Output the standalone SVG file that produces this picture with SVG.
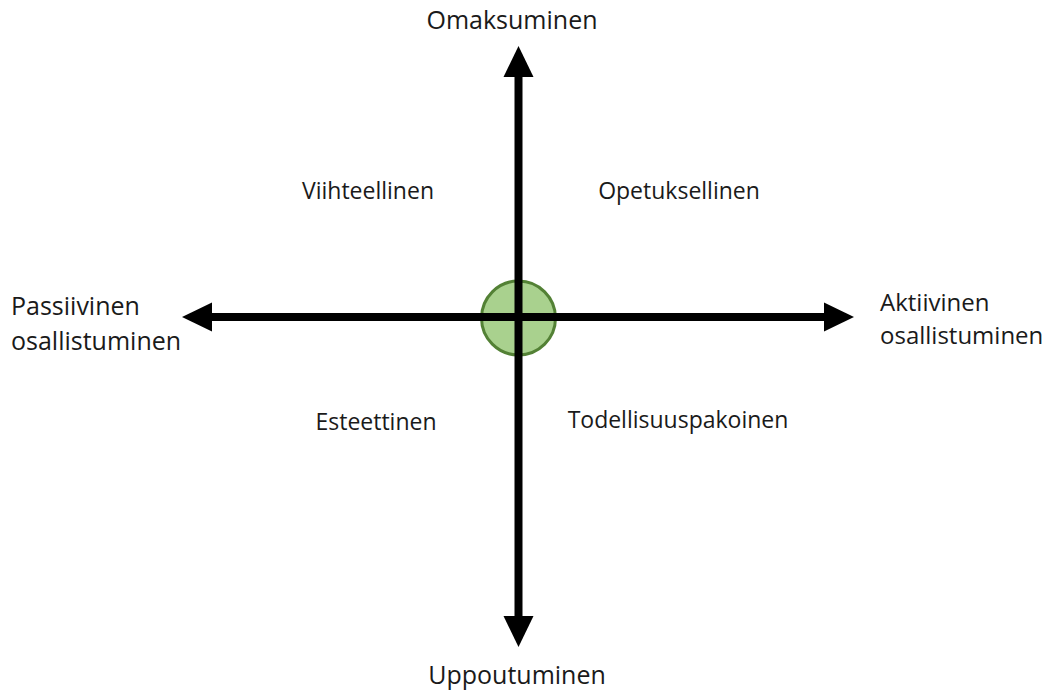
<svg xmlns="http://www.w3.org/2000/svg" width="1056" height="691" viewBox="0 0 1056 691">
<style>
text{font-family:"Open Sans","Noto Sans","Liberation Sans",sans-serif;fill:#1a1a1a}
.a{font-size:25px}
.r{font-size:24px}
.q{font-size:23px}
.c{text-anchor:middle}
.ax{stroke:#000;stroke-width:8;fill:none}
.hd{fill:#000}
</style>
<rect width="1056" height="691" fill="#fff"/>
<g id="center">
<circle cx="518.5" cy="318" r="37" fill="#a9d18e" stroke="#538135" stroke-width="3"/>
</g>
<g id="connectors">
<line class="ax" x1="518.5" y1="75" x2="518.5" y2="618"/>
<line class="ax" x1="210" y1="317" x2="827" y2="317"/>
<polygon class="hd" points="518.5,46 503.5,77 533.5,77"/>
<polygon class="hd" points="518.5,647 503.5,616 533.5,616"/>
<polygon class="hd" points="182,317 212,302.5 212,331.5"/>
<polygon class="hd" points="854,317 824,302.5 824,331.5"/>
</g>
<g id="top"><text class="a c" x="512" y="29">Omaksuminen</text></g>
<g id="bottom"><text class="a c" x="517" y="684">Uppoutuminen</text></g>
<g id="left"><text class="a" x="11" y="315">Passiivinen</text><text class="a" x="11" y="350">osallistuminen</text></g>
<g id="right"><text class="r" x="880" y="311">Aktiivinen</text><text class="r" x="880" y="344">osallistuminen</text></g>
<g id="q1"><text class="q c" x="368" y="199">Viihteellinen</text></g>
<g id="q2"><text class="q c" x="679" y="199">Opetuksellinen</text></g>
<g id="q3"><text class="q c" x="376" y="430">Esteettinen</text></g>
<g id="q4"><text class="q c" x="678" y="428">Todellisuuspakoinen</text></g>
</svg>
